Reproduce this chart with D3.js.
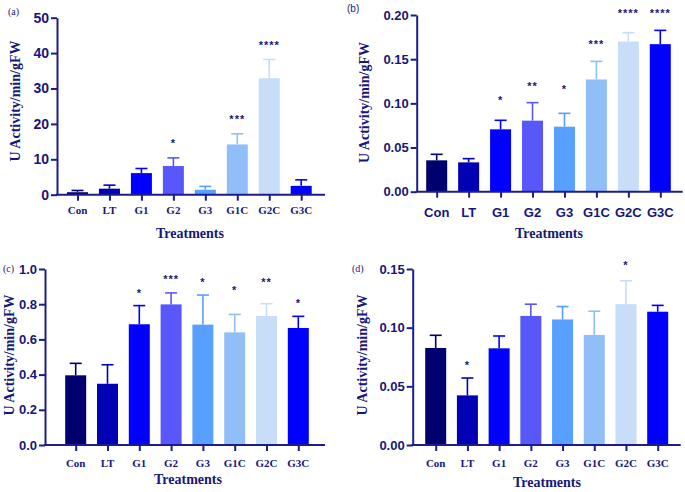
<!DOCTYPE html>
<html><head><meta charset="utf-8">
<script src="https://cdn.jsdelivr.net/npm/d3@7"></script>
<style>body{margin:0;background:#fff}svg{display:block}</style>
</head><body>
<script>
const categories = ["Con","LT","G1","G2","G3","G1C","G2C","G3C"];
const barColors = ["#00006e","#0000b4","#0000ff","#5858fa","#58a0ff","#90bff8","#c8ddf7","#0000ff"];
const panelLabels = ["(a)","(b)","(c)","(d)"];
const yTitle = "U Activity/min/gFW";
const xTitle = "Treatments";

const valuesA = [0.7, 1.7, 6.1, 8.1, 1.4, 14.2, 32.9, 2.5];
const errorsA = [0.5, 1.0, 1.3, 2.3, 0.95, 3.0, 5.3, 1.7];
const sigA = ["","","","*","","***","****",""];
const sigYA = [0,0,0,15,0,21.6,42.6,0];
const ticksA = [0,10,20,30,40,50];

const valuesB = [0.0355, 0.0332, 0.0706, 0.0804, 0.0736, 0.127, 0.170, 0.167];
const errorsB = [0.0068, 0.0042, 0.0102, 0.0204, 0.0151, 0.0205, 0.010, 0.0156];
const sigB = ["","","*","**","*","***","****","****"];
const sigYB = [0,0,0.1049,0.1208,0.1177,0.1687,0.2038,0.2038];
const ticksB = [0,0.05,0.10,0.15,0.20];

const valuesC = [0.396, 0.348, 0.686, 0.799, 0.684, 0.640, 0.733, 0.665];
const errorsC = [0.068, 0.108, 0.106, 0.065, 0.168, 0.102, 0.070, 0.066];
const sigC = ["","","*","***","*","*","**","*"];
const sigYC = [0,0,0.871,0.947,0.932,0.884,0.932,0.814];
const ticksC = [0,0.2,0.4,0.6,0.8,1.0];

const valuesD = [0.0827, 0.0423, 0.0824, 0.110, 0.107, 0.0938, 0.120, 0.1136];
const errorsD = [0.0108, 0.0148, 0.0105, 0.010, 0.011, 0.0202, 0.020, 0.0054];
const sigD = ["","*","","","","","*",""];
const sigYD = [0,0.0688,0,0,0,0,0.1543,0];
const ticksD = [0,0.05,0.10,0.15];

const SANS = "'Liberation Sans', Arial, sans-serif";
const SERIF = "'Liberation Serif', 'Times New Roman', serif";
const AXC = "#1c1c8a";
const TXC = "#17177a";

const panels = [
  {vals:valuesA, errs:errorsA, sig:sigA, sigY:sigYA, ticks:ticksA, fmt:d3.format("d"), max:50,
   ax:57, axEnd:325, c0:77.5, c1:301.2, y0:194.7, y1:17.7, tickFont:SERIF, tickSize:11, ytSize:14,
   lx:8, ly:15, yt:[15,101], xt:[190,238], tlY:214},
  {vals:valuesB, errs:errorsB, sig:sigB, sig2:true, sigY:sigYB, ticks:ticksB, fmt:d3.format(".2f"), max:0.20,
   ax:416.7, axEnd:682.7, c0:436.7, c1:660.3, y0:191.7, y1:15, tickFont:SANS, tickSize:13, ytSize:13,
   lx:347, ly:12, yt:[363.5,102.5], xt:[549,238], tlY:217},
  {vals:valuesC, errs:errorsC, sig:sigC, sigY:sigYC, ticks:ticksC, fmt:d3.format(".1f"), max:1.0,
   ax:45, axEnd:325, c0:75.7, c1:298.3, y0:445, y1:269, tickFont:SERIF, tickSize:11, ytSize:13,
   lx:3, ly:272, yt:[9,355], xt:[188,484], tlY:467},
  {vals:valuesD, errs:errorsD, sig:sigD, sigY:sigYD, ticks:ticksD, fmt:d3.format(".2f"), max:0.15,
   ax:412.7, axEnd:680.7, c0:435.7, c1:657.7, y0:445, y1:269, tickFont:SERIF, tickSize:11, ytSize:13,
   lx:352, ly:272, yt:[361.5,355], xt:[547,487], tlY:467}
];

const svg = d3.select("body").append("svg").attr("width",685).attr("height",492);

panels.forEach((p,i)=>{
  const g = svg.append("g");
  const x = d3.scalePoint().domain(categories).range([p.c0,p.c1]);
  const y = d3.scaleLinear().domain([0,p.max]).range([p.y0,p.y1]);
  const bw = 21;

  // bars
  g.selectAll("rect.bar").data(categories).join("rect")
    .attr("x", d=>x(d)-bw/2).attr("width", bw)
    .attr("y", (d,j)=>y(p.vals[j])).attr("height",(d,j)=>y(0)-y(p.vals[j]))
    .attr("fill",(d,j)=>barColors[j]);
  // error bars
  g.selectAll("line.eb").data(categories).join("line")
    .attr("x1",d=>x(d)).attr("x2",d=>x(d))
    .attr("y1",(d,j)=>y(p.vals[j])).attr("y2",(d,j)=>y(p.vals[j]+p.errs[j]))
    .attr("stroke",(d,j)=>barColors[j]).attr("stroke-width",1.6);
  g.selectAll("line.cap").data(categories).join("line")
    .attr("x1",d=>x(d)-6).attr("x2",d=>x(d)+6)
    .attr("y1",(d,j)=>y(p.vals[j]+p.errs[j])).attr("y2",(d,j)=>y(p.vals[j]+p.errs[j]))
    .attr("stroke",(d,j)=>barColors[j]).attr("stroke-width",1.6);
  // significance
  g.selectAll("text.sig").data(categories).join("text")
    .attr("x",d=>x(d)).attr("y",(d,j)=>y(p.sigY[j])+5)
    .attr("text-anchor","middle").attr("font-family",SANS).attr("font-weight","bold")
    .attr("font-size",11).attr("letter-spacing",1).attr("fill",TXC)
    .text((d,j)=>p.sig[j]);

  // y axis
  const ya = d3.axisLeft(y).tickValues(p.ticks).tickFormat(p.fmt).tickSize(6).tickPadding(2).tickSizeOuter(0);
  const yg = g.append("g").attr("transform",`translate(${p.ax},0)`).call(ya);
  yg.select(".domain").attr("stroke",AXC).attr("stroke-width",2);
  yg.selectAll(".tick line").attr("stroke",AXC).attr("stroke-width",2);
  yg.selectAll(".tick text").attr("fill",TXC).attr("font-family",SANS).attr("font-weight","bold").attr("font-size",p.ytSize);

  // x axis
  const xa = d3.axisBottom(x).tickSize(6).tickSizeOuter(0).tickFormat(()=>"");
  const xg = g.append("g").attr("transform",`translate(0,${p.y0})`).call(xa);
  xg.select(".domain").attr("d",`M${p.ax-1},0H${p.axEnd}`).attr("stroke",AXC).attr("stroke-width",2);
  xg.selectAll(".tick line").attr("stroke",AXC).attr("stroke-width",2);
  g.selectAll("text.xl").data(categories).join("text")
    .attr("x",d=>x(d)).attr("y",p.tlY).attr("text-anchor","middle")
    .attr("font-family",p.tickFont).attr("font-weight","bold").attr("font-size",p.tickSize)
    .attr("fill",TXC).text(d=>d);

  // titles
  g.append("text").attr("x",p.xt[0]).attr("y",p.xt[1]).attr("text-anchor","middle")
    .attr("font-family",SERIF).attr("font-weight","bold").attr("font-size",14).attr("fill",TXC).text(xTitle);
  g.append("text").attr("transform",`translate(${p.yt[0]+5},${p.yt[1]}) rotate(-90)`).attr("text-anchor","middle")
    .attr("font-family",SERIF).attr("font-weight","bold").attr("font-size",14).attr("fill",TXC).text(yTitle);
  g.append("text").attr("x",p.lx).attr("y",p.ly).attr("font-family", i===1?SANS:SERIF)
    .attr("font-size",10).attr("fill",TXC).text(panelLabels[i]);
});
</script>
</body></html>
